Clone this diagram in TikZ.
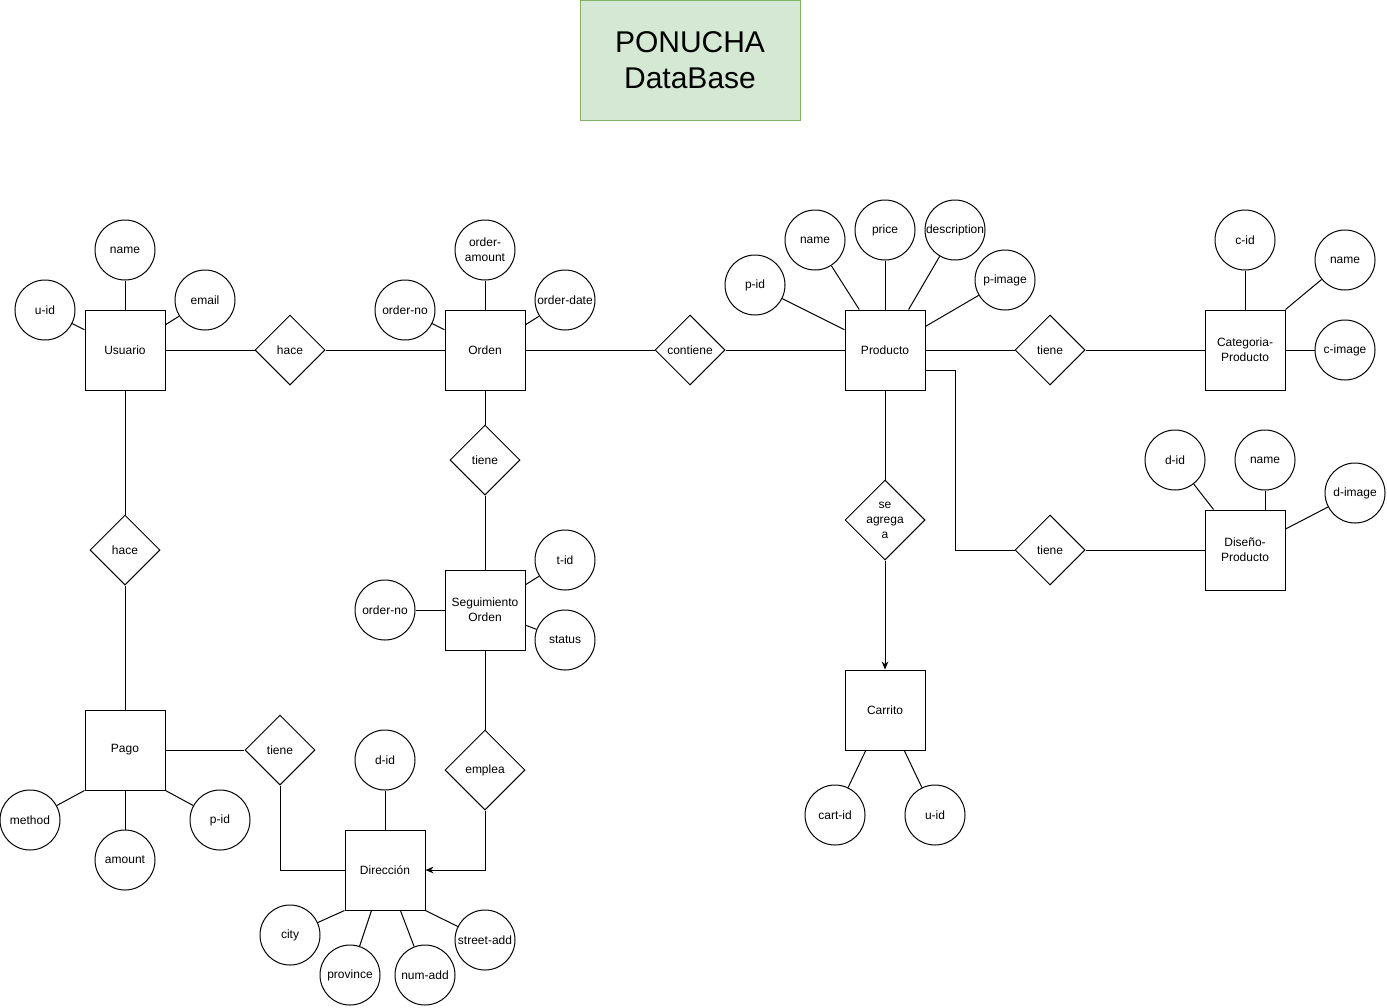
\documentclass[tikz,border=0pt]{standalone}
\usepackage{fontspec}
\setmainfont{Liberation Sans}
\usetikzlibrary{shapes.geometric}
\usetikzlibrary{arrows.meta}
\usetikzlibrary{positioning}
\definecolor{titlefill}{HTML}{D5E8D4}
\definecolor{titleedge}{HTML}{82B366}

\begin{document}
\begin{tikzpicture}[x=0.75pt,y=-0.75pt,line width=0.75pt,
  every node/.style={font=\fontsize{9}{11.25}\selectfont,align=center},
  entity/.style={draw,rectangle,minimum size=60pt,inner sep=0pt},
  attrib/.style={draw,circle,minimum size=45pt,inner sep=0pt},
  rel/.style={draw,diamond,aspect=1,minimum size=52.5pt,inner sep=0pt},
  arr/.style={-{Stealth[length=6pt,width=5pt]}}]
  \useasboundingbox (0,0) rectangle (1387,1007);
  % title
  \node[draw=titleedge,fill=titlefill,minimum width=165pt,minimum height=90pt,
        font=\fontsize{22.5}{27}\selectfont] (title) at (690,60) {PONUCHA\\DataBase};
  % entities
  \node[entity] (usu) at (125,350) {Usuario};
  \node[entity] (ord) at (485,350) {Orden};
  \node[entity] (prod) at (885,350) {Producto};
  \node[entity] (cat) at (1245,350) {Categoria-\\Producto};
  \node[entity] (dis) at (1245,550) {Diseño-\\Producto};
  \node[entity] (seg) at (485,610) {Seguimiento\\Orden};
  \node[entity] (car) at (885,710) {Carrito};
  \node[entity] (pago) at (125,750) {Pago};
  \node[entity] (dir) at (385,870) {Dirección};
  % relations
  \node[rel] (hace1) at (290,350) {hace};
  \node[rel] (contiene) at (690,350) {contiene};
  \node[rel] (tiene1) at (1050,350) {tiene};
  \node[rel] (tiene2) at (485,460) {tiene};
  \node[rel,minimum size=60pt] (agrega) at (885,520) {se\\agrega\\a};
  \node[rel] (tiene3) at (1050,550) {tiene};
  \node[rel] (hace2) at (125,550) {hace};
  \node[rel] (tiene4) at (280,750) {tiene};
  \node[rel,minimum size=60pt] (emplea) at (485,770) {emplea};
  % attributes Usuario
  \node[attrib] (uname) at (125,250) {name};
  \node[attrib] (uid) at (45,310) {u-id};
  \node[attrib] (uemail) at (205,300) {email};
  % attributes Orden
  \node[attrib] (oamount) at (485,250) {order-\\amount};
  \node[attrib] (ono) at (405,310) {order-no};
  \node[attrib] (odate) at (565,300) {order-date};
  % attributes Producto
  \node[attrib] (pid) at (755,285) {p-id};
  \node[attrib] (pname) at (815,240) {name};
  \node[attrib] (pprice) at (885,230) {price};
  \node[attrib] (pdesc) at (955,230) {description};
  \node[attrib] (pimage) at (1005,280) {p-image};
  % attributes Categoria
  \node[attrib] (cid) at (1245,240) {c-id};
  \node[attrib] (cname) at (1345,260) {name};
  \node[attrib] (cimage) at (1345,350) {c-image};
  % attributes Diseno
  \node[attrib] (did) at (1175,460) {d-id};
  \node[attrib] (dname) at (1265,460) {name};
  \node[attrib] (dimage) at (1355,493) {d-image};
  % attributes Seguimiento
  \node[attrib] (tid) at (565,560) {t-id};
  \node[attrib] (status) at (565,640) {status};
  \node[attrib] (sno) at (385,610) {order-no};
  % attributes Carrito
  \node[attrib] (cartid) at (835,815) {cart-id};
  \node[attrib] (caruid) at (935,815) {u-id};
  % attributes Pago
  \node[attrib] (method) at (30,820) {method};
  \node[attrib] (amount) at (125,860) {amount};
  \node[attrib] (pagoid) at (220,820) {p-id};
  % attributes Direccion
  \node[attrib] (dirid) at (385,760) {d-id};
  \node[attrib] (city) at (290,935) {city};
  \node[attrib] (prov) at (350,975) {province};
  \node[attrib] (numadd) at (425,975) {num-add};
  \node[attrib] (street) at (485,940) {street-add};

  % relationship lines
  \draw (usu) -- (hace1) -- (ord);
  \draw (ord) -- (contiene) -- (prod);
  \draw (prod) -- (tiene1) -- (cat);
  \draw (ord) -- (tiene2) -- (seg);
  \draw (seg) -- (emplea);
  \draw[arr] (emplea.south) |- (dir.east);
  \draw (prod) -- (agrega);
  \draw[arr] (agrega) -- (car);
  \draw ([yshift=-15pt]prod.east) -- ++(30,0) |- (tiene3.west);
  \draw (tiene3) -- (dis);
  \draw (usu) -- (hace2) -- (pago);
  \draw (pago) -- (tiene4);
  \draw (tiene4.south) |- (dir.west);

  % attribute lines
  \draw (uname) -- (usu);
  \draw (uid) -- (usu);
  \draw (uemail) -- (usu);
  \draw (oamount) -- (ord);
  \draw (ono) -- (ord);
  \draw (odate) -- (ord);
  \draw (pid) -- (prod);
  \draw (pname) -- (prod);
  \draw (pprice) -- (prod);
  \draw (pdesc) -- (prod);
  \draw (pimage) -- (prod);
  \draw (cid) -- (cat);
  \draw (cname) -- (cat.north east);
  \draw (cimage) -- (cat);
  \draw (did) -- (dis);
  \draw (dname) -- (dname |- dis.north);
  \draw (dimage) -- (dis);
  \draw (tid) -- (seg);
  \draw (status) -- (seg);
  \draw (sno) -- (seg);
  \draw (cartid) -- (car);
  \draw (caruid) -- (car);
  \draw (method) -- (pago.south west);
  \draw (amount) -- (pago);
  \draw (pagoid) -- (pago.south east);
  \draw (dirid) -- (dir);
  \draw (city) -- (dir.south west);
  \draw (prov) -- (dir);
  \draw (numadd) -- (dir);
  \draw (street) -- (dir.south east);
\end{tikzpicture}
\end{document}
